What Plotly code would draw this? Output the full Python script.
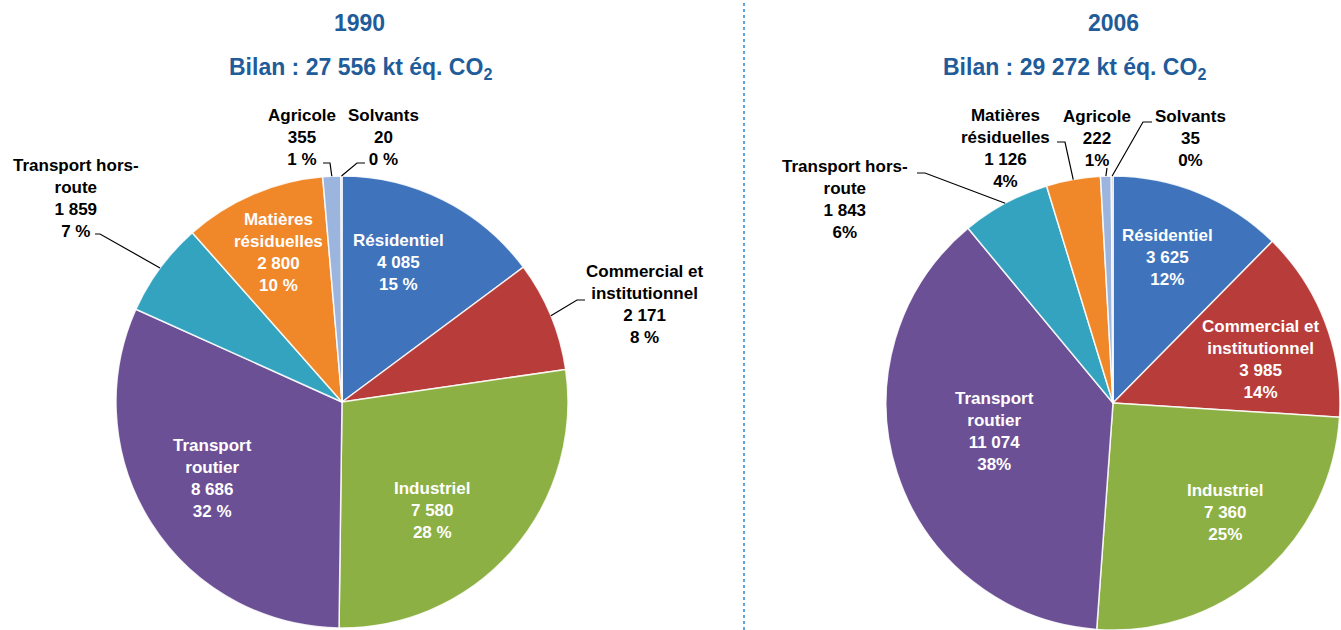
import math
import plotly.graph_objects as go

# Émissions de GES par secteur (kt éq. CO2)
categories = ["Résidentiel", "Commercial et institutionnel", "Industriel",
              "Transport routier", "Transport hors-route", "Matières résiduelles",
              "Agricole", "Solvants"]
display_names = ["Résidentiel", "Commercial et<br>institutionnel", "Industriel",
                 "Transport<br>routier", "Transport hors-<br>route", "Matières<br>résiduelles",
                 "Agricole", "Solvants"]
values_1990 = [4085, 2171, 7580, 8686, 1859, 2800, 355, 20]
values_2006 = [3625, 3985, 7360, 11074, 1843, 1126, 222, 35]
years = ["1990", "2006"]
totals = [27556, 29272]

colors = ["#3F74BC", "#B83C3A", "#8CB043", "#6C5095",
          "#34A3C0", "#F0882A", "#9CB5DE", "#A89A9C"]

W, H = 1341, 630


def pxp(x, y):
    return x / W, 1 - y / H


def fmt_thousands(v):
    return f"{v:,}".replace(",", " ")


# Pie geometry in pixels: centre and radius
pies = [
    dict(cx=342, cy=402, r=226, pct_sep=" %"),
    dict(cx=1113, cy=403, r=227, pct_sep="%"),
]

# Label placement (pixel centre of text block) and style per panel
label_layout = [
    {
        "Résidentiel": (398, 262, "inside"),
        "Commercial et institutionnel": (644, 304, "outside"),
        "Industriel": (432, 510, "inside"),
        "Transport routier": (212, 478, "inside"),
        "Transport hors-route": (76, 198, "outside"),
        "Matières résiduelles": (278, 252, "inside"),
        "Agricole": (302, 137, "outside"),
        "Solvants": (383, 137, "outside"),
    },
    {
        "Résidentiel": (1167, 257, "inside"),
        "Commercial et institutionnel": (1260, 359, "inside"),
        "Industriel": (1225, 512, "inside"),
        "Transport routier": (994, 431, "inside"),
        "Transport hors-route": (845, 199, "outside"),
        "Matières résiduelles": (1005, 148, "outside"),
        "Agricole": (1097, 138, "outside"),
        "Solvants": (1190, 138, "outside"),
    },
]

# Leader-line elbows (pixels) from the slice rim towards the label
leaders = [
    {
        "Agricole": [(330, 163), (323, 163)],
        "Solvants": [(357, 163), (365, 163)],
        "Transport hors-route": [(100, 234), (95, 234)],
        "Commercial et institutionnel": [(577, 300), (585, 300)],
    },
    {
        "Transport hors-route": [(925, 173), (917, 173)],
        "Matières résiduelles": [(1065, 142), (1057, 142)],
        "Agricole": [(1107, 168)],
        "Solvants": [(1143, 122), (1152, 122)],
    },
]

fig = go.Figure()
annotations = []
shapes = []
label_font = "Liberation Sans, Arial, sans-serif"

for i, vals in enumerate([values_1990, values_2006]):
    g = pies[i]
    x0, y1 = pxp(g["cx"] - g["r"], g["cy"] - g["r"])
    x1, y0 = pxp(g["cx"] + g["r"], g["cy"] + g["r"])
    fig.add_trace(go.Pie(
        labels=categories, values=vals, sort=False, direction="clockwise",
        rotation=0, textinfo="none", hoverinfo="label+value+percent",
        marker=dict(colors=colors, line=dict(color="rgba(255,255,255,0.85)", width=1.5)),
        domain=dict(x=[max(0, x0), min(1, x1)], y=[max(0, y0), min(1, y1)]),
        showlegend=False,
    ))

    total = sum(vals)
    cum = 0.0
    for cat, name, v in zip(categories, display_names, vals):
        ang = (cum + v / 2) / total * 2 * math.pi
        cum += v
        pct = round(v / totals[i] * 100)
        text = f"<b>{name}<br>{fmt_thousands(v)}<br>{pct}{g['pct_sep']}</b>"
        lx, ly, where = label_layout[i][cat]
        ax, ay = pxp(lx, ly)
        annotations.append(dict(
            text=text, x=ax, y=ay, xref="paper", yref="paper",
            xanchor="center", yanchor="middle", showarrow=False, align="center",
            font=dict(family=label_font, size=17,
                      color="white" if where == "inside" else "black"),
        ))
        if cat in leaders[i]:
            rim = (g["cx"] + g["r"] * math.sin(ang), g["cy"] - g["r"] * math.cos(ang))
            pts = [rim] + leaders[i][cat]
            path = ""
            for k, (px_, py_) in enumerate(pts):
                qx, qy = pxp(px_, py_)
                path += ("M" if k == 0 else " L") + f" {qx:.5f},{qy:.5f}"
            shapes.append(dict(type="path", path=path, xref="paper", yref="paper",
                               line=dict(color="black", width=1.2)))

# Titles
title_pos = [((359, 23), (360, 68)), ((1113, 23), (1074, 68))]
for i, yr in enumerate(years):
    (tx, ty), (bx, by) = title_pos[i]
    ax, ay = pxp(tx, ty)
    annotations.append(dict(text=f"<b>{yr}</b>", x=ax, y=ay, xref="paper", yref="paper",
                            xanchor="center", yanchor="middle", showarrow=False,
                            font=dict(family=label_font, size=23, color="#1F5C99")))
    ax, ay = pxp(bx, by)
    annotations.append(dict(text=f"<b>Bilan : {fmt_thousands(totals[i])} kt éq. CO<sub>2</sub></b>",
                            x=ax, y=ay, xref="paper", yref="paper",
                            xanchor="center", yanchor="middle", showarrow=False,
                            font=dict(family=label_font, size=23, color="#1F5C99")))

# Dotted separator between the two panels
sx, _ = pxp(744, 0)
shapes.append(dict(type="line", x0=sx, x1=sx, y0=0, y1=1, xref="paper", yref="paper",
                   line=dict(color="#2A86D8", width=1.5, dash="dot")))

fig.update_layout(
    width=W, height=H, margin=dict(l=0, r=0, t=0, b=0),
    paper_bgcolor="white", plot_bgcolor="white",
    annotations=annotations, shapes=shapes,
)

fig.write_html("out.html")
